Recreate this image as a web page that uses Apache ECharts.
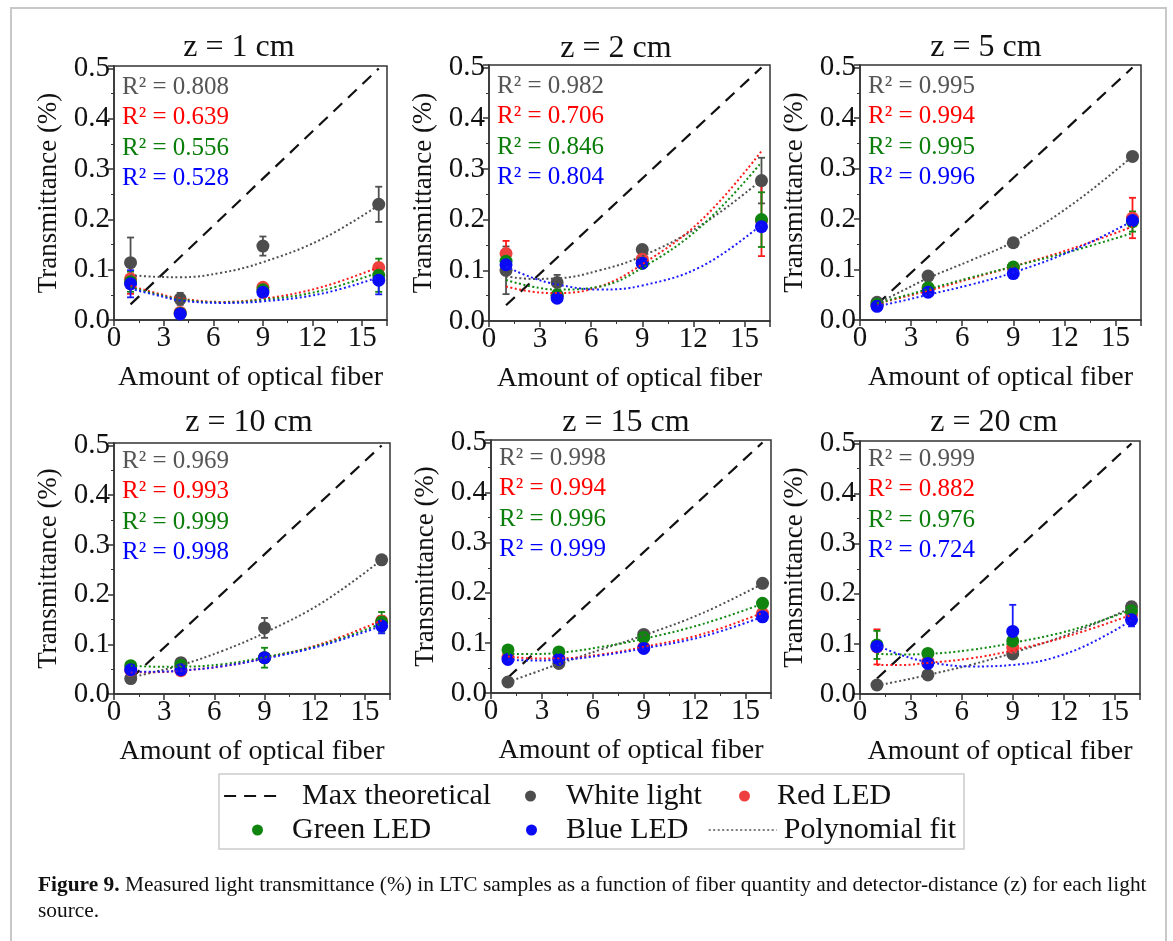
<!DOCTYPE html>
<html>
<head>
<meta charset="utf-8">
<script src="https://cdn.jsdelivr.net/npm/echarts@6.0.0/dist/echarts.min.js"></script>
<style>
  html, body { margin: 0; padding: 0; background: #fff; }
  #echarts { width: 1173px; height: 941px; }
</style>
</head>
<body>
<div id="echarts"></div>
<script>
// Quantidade de fibra (eixo x) e pontos onde a curva de ajuste foi lida
var xPts = [1, 4, 9, 16];
var fitX = [1, 2.5, 4, 6.5, 9, 12.5, 16];
var maxX = [1, 16];
var maxY = [0.031, 0.5];

var panelTitles = ['z = 1 cm', 'z = 2 cm', 'z = 5 cm', 'z = 10 cm', 'z = 15 cm', 'z = 20 cm'];

// Valores medidos (uma linha por painel)
var whiteLight = [
    [0.114, 0.042, 0.147, 0.230],
    [0.100, 0.076, 0.141, 0.277],
    [0.035, 0.087, 0.153, 0.324],
    [0.031, 0.063, 0.133, 0.270],
    [0.022, 0.059, 0.117, 0.219],
    [0.018, 0.038, 0.080, 0.174]
];
var redLed = [
    [0.082, 0.015, 0.065, 0.104],
    [0.133, 0.050, 0.122, 0.198],
    [0.029, 0.062, 0.104, 0.202],
    [0.048, 0.047, 0.073, 0.147],
    [0.072, 0.069, 0.091, 0.159],
    [0.094, 0.065, 0.093, 0.158]
];
var greenLed = [
    [0.076, 0.013, 0.060, 0.089],
    [0.118, 0.051, 0.114, 0.200],
    [0.031, 0.064, 0.105, 0.195],
    [0.057, 0.058, 0.073, 0.145],
    [0.086, 0.082, 0.111, 0.179],
    [0.098, 0.081, 0.106, 0.166]
];
var blueLed = [
    [0.072, 0.012, 0.055, 0.079],
    [0.111, 0.045, 0.114, 0.186],
    [0.027, 0.055, 0.092, 0.197],
    [0.049, 0.049, 0.073, 0.137],
    [0.067, 0.067, 0.089, 0.152],
    [0.095, 0.061, 0.125, 0.148]
];

// Barras de erro (meia amplitude)
var whiteErr = [
    [0.050, 0.012, 0.019, 0.035],
    [0.047, 0.015, 0.005, 0.045],
    [0, 0, 0, 0],
    [0.008, 0.005, 0.020, 0],
    [0, 0, 0, 0],
    [0, 0, 0, 0.010]
];
var redErr = [
    [0.030, 0, 0.005, 0.010],
    [0.025, 0.005, 0.010, 0.070],
    [0, 0.008, 0, 0.040],
    [0, 0, 0, 0.010],
    [0.005, 0, 0, 0.010],
    [0.035, 0, 0.010, 0.010]
];
var greenErr = [
    [0.020, 0, 0.005, 0.033],
    [0.013, 0.010, 0.008, 0.054],
    [0, 0.008, 0.005, 0.020],
    [0.005, 0.008, 0.020, 0.020],
    [0.005, 0, 0.005, 0.005],
    [0.028, 0.005, 0.015, 0.012]
];
var blueErr = [
    [0.027, 0, 0.005, 0.028],
    [0.005, 0.005, 0.005, 0.005],
    [0, 0, 0, 0],
    [0, 0, 0.005, 0.015],
    [0, 0, 0, 0.008],
    [0.005, 0.008, 0.053, 0.013]
];

var whiteFit = [
    [0.089, 0.086, 0.085, 0.094, 0.115, 0.160, 0.228],
    [0.088, 0.083, 0.084, 0.100, 0.128, 0.190, 0.278],
    [0.033, 0.058, 0.083, 0.118, 0.155, 0.230, 0.324],
    [0.033, 0.045, 0.058, 0.087, 0.123, 0.185, 0.270],
    [0.022, 0.040, 0.058, 0.087, 0.115, 0.160, 0.218],
    [0.017, 0.027, 0.038, 0.058, 0.082, 0.122, 0.172]
];
var redFit = [
    [0.068, 0.054, 0.043, 0.036, 0.042, 0.065, 0.105],
    [0.068, 0.058, 0.055, 0.068, 0.112, 0.200, 0.335],
    [0.032, 0.045, 0.058, 0.082, 0.106, 0.142, 0.185],
    [0.044, 0.044, 0.047, 0.056, 0.072, 0.102, 0.148],
    [0.073, 0.069, 0.069, 0.077, 0.092, 0.118, 0.160],
    [0.058, 0.058, 0.062, 0.071, 0.087, 0.118, 0.158]
];
var greenFit = [
    [0.065, 0.052, 0.041, 0.035, 0.040, 0.058, 0.095],
    [0.081, 0.068, 0.062, 0.068, 0.105, 0.188, 0.313],
    [0.033, 0.047, 0.061, 0.084, 0.106, 0.137, 0.172],
    [0.057, 0.055, 0.055, 0.060, 0.074, 0.100, 0.142],
    [0.078, 0.078, 0.080, 0.092, 0.108, 0.138, 0.178],
    [0.080, 0.079, 0.080, 0.088, 0.102, 0.128, 0.168]
];
var blueFit = [
    [0.062, 0.050, 0.039, 0.034, 0.037, 0.052, 0.085],
    [0.107, 0.086, 0.072, 0.062, 0.070, 0.108, 0.190],
    [0.027, 0.038, 0.050, 0.070, 0.094, 0.138, 0.196],
    [0.045, 0.045, 0.047, 0.056, 0.071, 0.098, 0.137],
    [0.066, 0.065, 0.066, 0.075, 0.089, 0.113, 0.152],
    [0.097, 0.077, 0.064, 0.055, 0.058, 0.085, 0.147]
];

var r2White = ['0.808', '0.982', '0.995', '0.969', '0.998', '0.999'];
var r2Red = ['0.639', '0.706', '0.994', '0.993', '0.994', '0.882'];
var r2Green = ['0.556', '0.846', '0.995', '0.999', '0.996', '0.976'];
var r2Blue = ['0.528', '0.804', '0.996', '0.998', '0.999', '0.724'];

// Layout dos painéis
var grids = [
    { left: 114, top: 66, width: 273, height: 254 },
    { left: 489, top: 65, width: 281, height: 256 },
    { left: 860, top: 65, width: 281, height: 255 },
    { left: 114, top: 443, width: 276, height: 251 },
    { left: 491, top: 440, width: 280, height: 253 },
    { left: 860, top: 441, width: 280, height: 253 }
];
var titlePos = [[239, 48], [616, 49], [986, 48], [249, 423], [626, 423], [994, 423]];

var serif = '"Liberation Serif", "Times New Roman", serif';

var sources = [
    { name: 'White light', vals: whiteLight, errs: whiteErr, fit: whiteFit, r2: r2White, dot: '#4d4d4d', line: '#505050', text: '#555555' },
    { name: 'Red LED', vals: redLed, errs: redErr, fit: redFit, r2: r2Red, dot: '#ef4040', line: '#ff1a1a', text: '#ff0000' },
    { name: 'Green LED', vals: greenLed, errs: greenErr, fit: greenFit, r2: r2Green, dot: '#0f850f', line: '#118811', text: '#0a7d0a' },
    { name: 'Blue LED', vals: blueLed, errs: blueErr, fit: blueFit, r2: r2Blue, dot: '#0a0af5', line: '#1a1aff', text: '#0000ff' }
];

var chart = echarts.init(document.getElementById('echarts'));

// Desenha uma barra de erro vertical com "caps"
function errBars(color) {
    return function (params, api) {
        var e = api.value(2);
        if (!e) {
            return;
        }
        var x = api.value(0), y = api.value(1);
        var hi = api.coord([x, y + e]);
        var lo = api.coord([x, y - e]);
        var cap = 3.5;
        return {
            type: 'group',
            children: [
                { type: 'line', shape: { x1: hi[0], y1: hi[1], x2: lo[0], y2: lo[1] }, style: { stroke: color, lineWidth: 1.8 } },
                { type: 'line', shape: { x1: hi[0] - cap, y1: hi[1], x2: hi[0] + cap, y2: hi[1] }, style: { stroke: color, lineWidth: 1.8 } },
                { type: 'line', shape: { x1: lo[0] - cap, y1: lo[1], x2: lo[0] + cap, y2: lo[1] }, style: { stroke: color, lineWidth: 1.8 } }
            ]
        };
    };
}

var xAxes = [], yAxes = [], series = [], graphics = [];

grids.forEach(function (g, i) {
    xAxes.push({
        gridIndex: i, type: 'value', min: 0, max: 16.5, interval: 3,
        name: 'Amount of optical fiber', nameLocation: 'middle', nameGap: 44,
        nameTextStyle: { fontFamily: serif, fontSize: 28, color: '#111' },
        axisLine: { show: true, lineStyle: { color: '#333', width: 1.5 } },
        axisTick: { show: true, length: 6, lineStyle: { color: '#333', width: 1.5 } },
        minorTick: { show: true, splitNumber: 2, length: 3, lineStyle: { color: '#333', width: 1 } },
        splitLine: { show: false },
        axisLabel: {
            fontFamily: serif, fontSize: 29, color: '#111', margin: 4,
            formatter: function (v) { return v % 3 === 0 ? String(v) : ''; }
        }
    });
    yAxes.push({
        gridIndex: i, type: 'value', min: 0, max: 0.505, interval: 0.1,
        name: 'Transmittance (%)', nameLocation: 'middle', nameGap: 52, nameRotate: 90,
        nameTextStyle: { fontFamily: serif, fontSize: 27, color: '#111' },
        axisLine: { show: true, lineStyle: { color: '#333', width: 1.5 } },
        axisTick: { show: true, length: 6, lineStyle: { color: '#333', width: 1.5 } },
        minorTick: { show: true, splitNumber: 2, length: 3, lineStyle: { color: '#333', width: 1 } },
        splitLine: { show: false },
        axisLabel: {
            fontFamily: serif, fontSize: 29, color: '#111', margin: 4,
            formatter: function (v) {
                var k = Math.round(v * 10);
                return Math.abs(v * 10 - k) < 1e-6 ? (k / 10).toFixed(1) : '';
            }
        }
    });

    // Linha de máximo teórico
    series.push({
        name: 'Max theoretical', type: 'line', xAxisIndex: i, yAxisIndex: i,
        data: maxX.map(function (x, k) { return [x, maxY[k]]; }),
        symbol: 'none', silent: true, z: 1,
        itemStyle: { color: '#111' },
        lineStyle: { color: '#111', width: 2.2, type: [12, 8] }
    });

    sources.forEach(function (s) {
        series.push({
            name: s.name + ' err', type: 'custom', xAxisIndex: i, yAxisIndex: i,
            renderItem: errBars(s.line), silent: true, z: 2,
            data: xPts.map(function (x, k) { return [x, s.vals[i][k], s.errs[i][k]]; })
        });
        series.push({
            name: s.name, type: 'scatter', xAxisIndex: i, yAxisIndex: i,
            symbolSize: 13, z: 3, silent: true,
            itemStyle: { color: s.dot, opacity: 1 },
            data: xPts.map(function (x, k) { return [x, s.vals[i][k]]; })
        });
    });

    sources.forEach(function (s) {
        series.push({
            name: 'Polynomial fit', type: 'line', xAxisIndex: i, yAxisIndex: i,
            smooth: 0.4, symbol: 'none', silent: true, z: 4,
            itemStyle: { color: s.line },
            lineStyle: { color: s.line, width: 2, type: [2, 2.5] },
            data: fitX.map(function (x, k) { return [x, s.fit[i][k]]; })
        });
    });

    // Título do painel
    graphics.push({
        type: 'text', x: titlePos[i][0], y: titlePos[i][1],
        style: { text: panelTitles[i], fill: '#111', font: '32px ' + serif, align: 'center', verticalAlign: 'middle' }
    });

    // Valores de R²
    var rowOff = i < 3 ? 21 : 18;
    sources.forEach(function (s, k) {
        graphics.push({
            type: 'text', x: g.left + 8, y: g.top + rowOff + k * 30.5,
            style: { text: 'R\u00b2 = ' + s.r2[i], fill: s.text, font: '25px ' + serif, align: 'left', verticalAlign: 'middle' }
        });
    });
});

// Moldura da página e caixa da legenda
graphics.push({
    type: 'polyline', silent: true,
    shape: { points: [[11, 941], [11, 8], [1166, 8], [1166, 941]] },
    style: { stroke: '#c8c8c8', lineWidth: 2, fill: null }
});
graphics.push({
    type: 'rect', silent: true,
    shape: { x: 219, y: 774, width: 745, height: 75 },
    style: { stroke: '#cccccc', lineWidth: 1.5, fill: null }
});

// Legenda da figura
graphics.push({
    type: 'text', x: 38, y: 872,
    style: {
        text: '{b|Figure 9.} Measured light transmittance (%) in LTC samples as a function of fiber quantity and detector-distance (z) for each light\nsource.',
        font: '21.4px ' + serif, fill: '#111', lineHeight: 26, verticalAlign: 'top',
        rich: { b: { fontWeight: 'bold', fontFamily: serif, fontSize: 21.4, lineHeight: 26 } }
    }
});

function legendItem(name, left, top, w, h, pad, icon, lineWidth) {
    var l = {
        data: [name], left: left, top: top, padding: 0,
        itemWidth: w, itemHeight: h, selectedMode: false,
        textStyle: { fontFamily: serif, fontSize: 30, color: '#111', padding: [0, 0, 0, pad] }
    };
    if (icon) {
        l.icon = icon;
    }
    if (lineWidth) {
        // só a linha, sem o símbolo no meio
        l.lineStyle = { width: lineWidth };
        l.itemStyle = { opacity: 0, borderWidth: 0 };
    }
    return l;
}

var legends = [
    legendItem('Max theoretical', 223, 781, 60, 14, 13, null, 2.2),
    legendItem('White light', 525, 781, 11, 11, 25, 'circle'),
    legendItem('Red LED', 739, 781, 11, 11, 22, 'circle'),
    legendItem('Green LED', 252, 815, 11, 11, 24, 'circle'),
    legendItem('Blue LED', 526, 815, 11, 11, 24, 'circle'),
    legendItem('Polynomial fit', 708, 815, 68, 14, 2, null, 1.4)
];

var options = {
    animation: false,
    backgroundColor: '#ffffff',
    grid: grids.map(function (g) {
        return { left: g.left, top: g.top, width: g.width, height: g.height, show: true, borderColor: '#333', borderWidth: 1.5, backgroundColor: 'transparent' };
    }),
    xAxis: xAxes,
    yAxis: yAxes,
    legend: legends,
    graphic: graphics,
    series: series
};

chart.setOption(options);
</script>
</body>
</html>
